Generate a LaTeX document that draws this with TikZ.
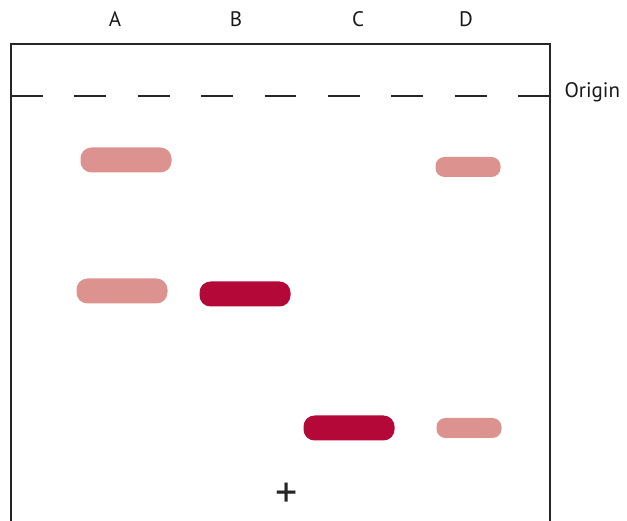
\documentclass[tikz,border=0pt]{standalone}
\usepackage{fontspec}
\setmainfont{PT Sans}
\definecolor{bandlight}{HTML}{DC9390}
\definecolor{banddark}{HTML}{B30838}
\begin{document}
\begin{tikzpicture}[
    x=1pt, y=-1pt,
    band/.style={
        rounded corners=11pt,
        minimum width=91pt,
        minimum height=25pt,
        inner sep=0pt
    },
    smallband/.style={
        band,
        rounded corners=9pt,
        minimum width=65pt,
        minimum height=20pt
    },
    lane/.style={
        font=\fontsize{21}{24}\selectfont,
        text=black!90
    }
]
    \useasboundingbox (0,0) rectangle (627,521);

    % gel outline, open at the bottom
    \draw[line width=2pt, black!85] (11,521) -- (11,44) -- (550,44) -- (550,521);
    \draw[line width=2.4pt, black!85, dash pattern=on 31.7pt off 31.7pt]
        (11,96) -- (550,96);

    % lane labels
    \node[lane] (laneA) at (115,19) {A};
    \node[lane] (laneB) at (236,19) {B};
    \node[lane] (laneC) at (358,19) {C};
    \node[lane] (laneD) at (466,19) {D};
    \node[lane, anchor=west] (origin) at (561,92) {Origin};

    % bands
    \node[band, fill=bandlight] (A1) at (126,160) {};
    \node[band, fill=bandlight] (A2) at (122,291) {};
    \node[band, fill=banddark] (B1) at (245,294) {};
    \node[band, fill=banddark] (C1) at (349,428) {};
    \node[smallband, fill=bandlight] (D1) at (468,167) {};
    \node[smallband, fill=bandlight] (D2) at (469,428) {};

    \node[font=\fontsize{44}{46}\selectfont, text=black!85, inner sep=0pt] (plus) at (287,495) {+};

\end{tikzpicture}
\end{document}
